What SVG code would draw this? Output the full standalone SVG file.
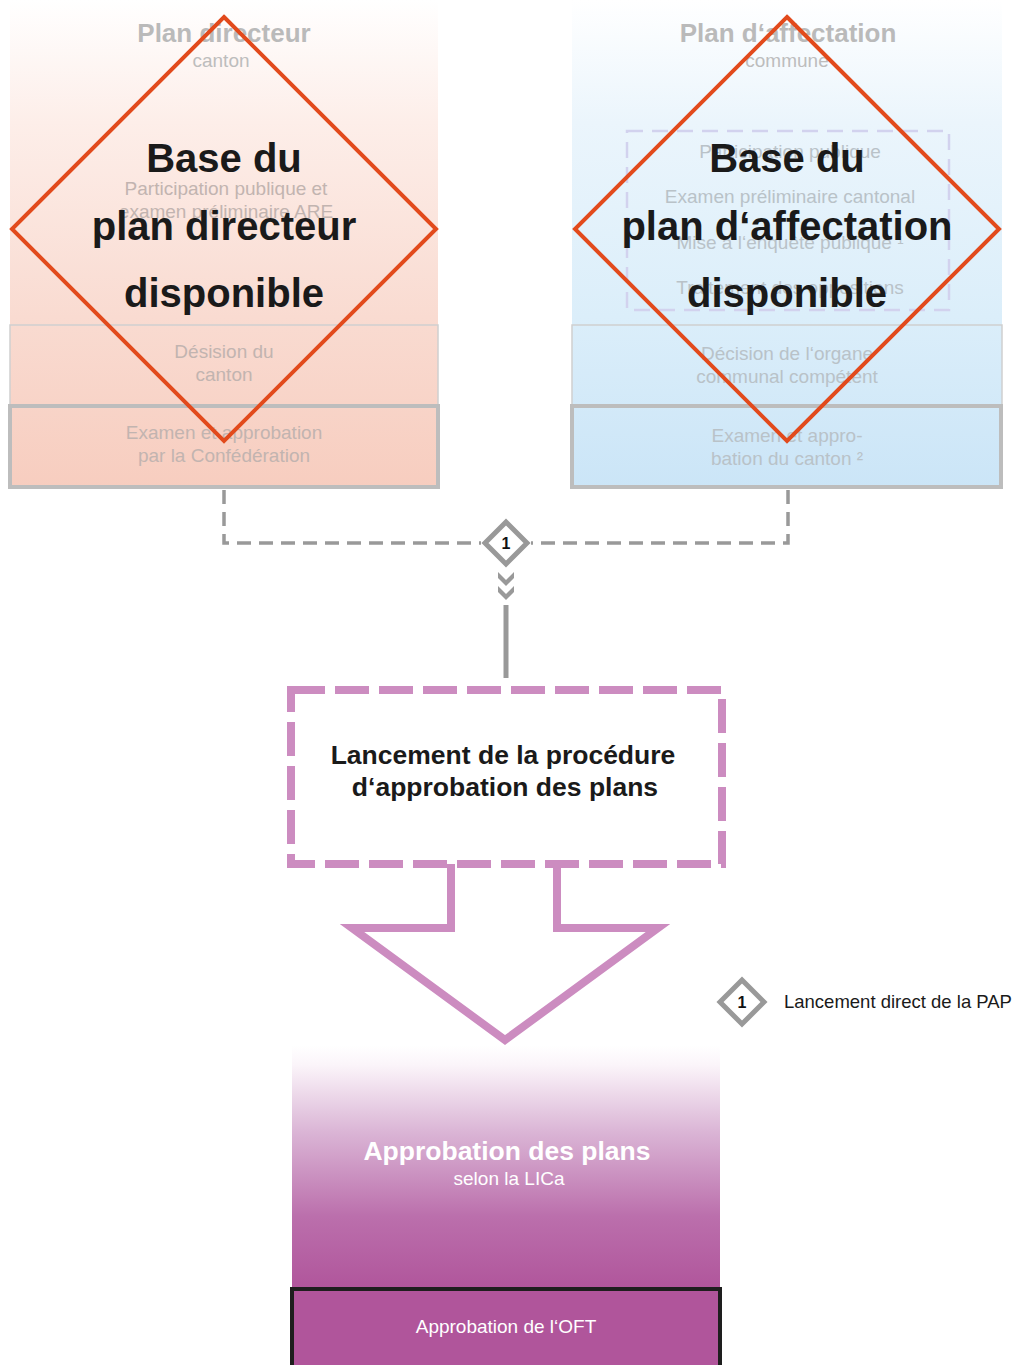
<svg xmlns="http://www.w3.org/2000/svg" width="1012" height="1365" viewBox="0 0 1012 1365">
<style>
text{font-family:"Liberation Sans",Arial,sans-serif;text-anchor:middle}
.ttl{font-size:26px;font-weight:bold;fill:#bababa}
.sub{font-size:19px;fill:#bdbdbd}
.fad{font-size:19px;fill:#c2b4b0}
.fadb{font-size:19px;fill:#b9c2c8}
.big{font-size:40px;font-weight:bold;fill:#1a1a1a}
.dia{fill:none;stroke:#e24a1c;stroke-width:4}
.thin{stroke:#cfcfcf;stroke-width:1.5}
.thick{stroke:#bdbdbd;stroke-width:4}
.conn{fill:none;stroke:#999;stroke-width:3.5;stroke-dasharray:14 8}
.mark{fill:#fff;stroke:#999;stroke-width:5}
.num{font-size:16px;font-weight:bold;fill:#111}
.pink{fill:none;stroke:#cc8cc0;stroke-width:8}
.wb{font-size:26.5px;font-weight:bold}
</style>
<defs>
<linearGradient id="gL" x1="0" y1="0" x2="0" y2="1">
<stop offset="0" stop-color="#ffffff"/>
<stop offset="0.25" stop-color="#fdeee9"/>
<stop offset="0.65" stop-color="#f9dbd1"/>
<stop offset="1" stop-color="#f7cdbf"/>
</linearGradient>
<linearGradient id="gR" x1="0" y1="0" x2="0" y2="1">
<stop offset="0" stop-color="#ffffff"/>
<stop offset="0.25" stop-color="#ebf5fc"/>
<stop offset="0.65" stop-color="#dbeefa"/>
<stop offset="1" stop-color="#cbe5f7"/>
</linearGradient>
<linearGradient id="gB" x1="0" y1="0" x2="0" y2="1">
<stop offset="0" stop-color="#ffffff"/>
<stop offset="0.08" stop-color="#fbf5fa"/>
<stop offset="0.35" stop-color="#dbb6d6"/>
<stop offset="0.7" stop-color="#bb6fac"/>
<stop offset="1" stop-color="#b0559b"/>
</linearGradient>
</defs>

<g id="col-plan-directeur">
<rect x="10" y="0" width="428" height="488" fill="url(#gL)"/>
<text class="ttl" x="224" y="42">Plan directeur</text>
<text class="sub" x="221" y="67">canton</text>
<text class="fad" x="226" y="195">Participation publique et</text>
<text class="fad" x="226" y="218">examen préliminaire ARE</text>
<rect class="thin" x="10" y="325" width="428" height="80" fill="none"/>
<text class="fad" x="224" y="358">Désision du</text>
<text class="fad" x="224" y="381">canton</text>
<rect class="thick" x="10" y="406" width="428" height="81" fill="none"/>
<text class="fad" x="224" y="439">Examen et approbation</text>
<text class="fad" x="224" y="462">par la Confédération</text>
</g>

<g id="col-plan-affectation">
<rect x="572" y="0" width="430" height="488" fill="url(#gR)"/>
<text class="ttl" x="788" y="42">Plan d‘affectation</text>
<text class="sub" x="787" y="67">commune</text>
<rect x="627" y="131" width="322" height="179" fill="none" stroke="#d2d2ee" stroke-width="2.5" stroke-dasharray="16 9"/>
<text class="fadb" x="790" y="158">Participation publique</text>
<text class="fadb" x="790" y="203">Examen préliminaire cantonal</text>
<text class="fadb" x="790" y="249">Mise à l‘enquête publique ¹</text>
<text class="fadb" x="790" y="294">Traitement des oppositions</text>
<rect class="thin" x="572" y="325" width="430" height="80" fill="none"/>
<text class="fadb" x="787" y="360">Décision de l‘organe</text>
<text class="fadb" x="787" y="383">communal compétent</text>
<rect class="thick" x="572" y="406" width="429" height="81" fill="none"/>
<text class="fadb" x="787" y="442">Examen et appro-</text>
<text class="fadb" x="787" y="465">bation du canton ²</text>
</g>

<g id="diamond-left">
<polygon class="dia" points="224,17 436,229 224,441 12,229"/>
<text class="big" x="224" y="172">Base du</text>
<text class="big" x="224" y="240">plan directeur</text>
<text class="big" x="224" y="307">disponible</text>
</g>

<g id="diamond-right">
<polygon class="dia" points="787,17 999,229 787,441 575,229"/>
<text class="big" x="787" y="172">Base du</text>
<text class="big" x="787" y="240">plan d‘affectation</text>
<text class="big" x="787" y="307">disponible</text>
</g>

<g id="connectors">
<polyline class="conn" points="224,490 224,543 481,543"/>
<polyline class="conn" points="788,490 788,543 531,543"/>
<path d="M498,572 L506,580 L514,572 L514,578 L506,586 L498,578 Z M498,586 L506,594 L514,586 L514,592 L506,600 L498,592 Z" fill="#999"/>
<line x1="506" y1="605" x2="506" y2="678" stroke="#999" stroke-width="5"/>
</g>

<g id="marker-1">
<polygon class="mark" points="506,522 527,543 506,564 485,543"/>
<text class="num" x="506" y="549">1</text>
</g>

<g id="lancement">
<rect x="291" y="690" width="431" height="174" fill="#fff" stroke="#cc8cc0" stroke-width="8" stroke-dasharray="34 10"/>
<text class="wb" x="503" y="764" fill="#1a1a1a">Lancement de la procédure</text>
<text class="wb" x="505" y="796" fill="#1a1a1a">d‘approbation des plans</text>
</g>

<g id="arrow">
<path class="pink" d="M451,864 L451,928 L352,928 L505,1040 L658,928 L557,928 L557,864" stroke-linejoin="miter"/>
</g>

<g id="legend">
<polygon class="mark" points="742,980 764,1002 742,1024 720,1002"/>
<text class="num" x="742" y="1008">1</text>
<text x="784" y="1008" style="font-size:18.5px;fill:#1a1a1a;text-anchor:start">Lancement direct de la PAP</text>
</g>

<g id="approbation">
<rect x="292" y="1045" width="428" height="245" fill="url(#gB)"/>
<text class="wb" x="507" y="1160" fill="#fff">Approbation des plans</text>
<text x="509" y="1185" style="font-size:19px;fill:#fff">selon la LICa</text>
</g>

<g id="oft">
<rect x="292" y="1289" width="428" height="80" fill="#b0559b" stroke="#1e1e1e" stroke-width="4"/>
<text x="506" y="1333" style="font-size:19px;fill:#fff">Approbation de l‘OFT</text>
</g>
</svg>
